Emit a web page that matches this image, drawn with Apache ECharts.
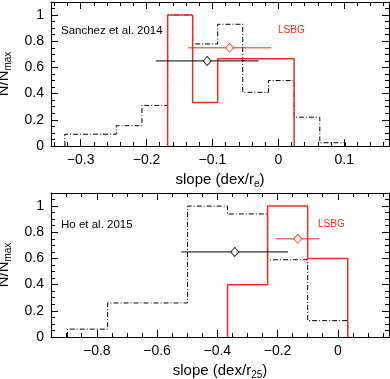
<!DOCTYPE html>
<html>
<head>
<meta charset="utf-8">
<script src="https://cdn.jsdelivr.net/npm/echarts@6/dist/echarts.min.js"></script>
<style>
  html, body { margin: 0; padding: 0; background: #fff; }
  #main { width: 390px; height: 379px; }
</style>
</head>
<body>
<div id="main"></div>
<script>
// Sanchez et al. 2014 (top panel)
var sanchezEdges = [-0.324, -0.285, -0.246, -0.207, -0.168, -0.130, -0.092, -0.054, -0.015, 0.024, 0.063, 0.102];
var sanchezVals  = [0.09, 0.09, 0.155, 0.31, 1.0, 0.78, 0.93, 0.41, 0.5, 0.22, 0.025];
var lsbgTopEdges = [-0.168, -0.130, -0.092, -0.054, -0.015, 0.024];
var lsbgTopVals  = [1.0, 0.333, 0.667, 0.667, 0.667];
var sanchezMean = [-0.108, 0.65], sanchezErr = 0.078;
var lsbgTopMean = [-0.074, 0.75], lsbgTopErr = 0.063;

// Ho et al. 2015 (bottom panel)
var hoEdges = [-0.897, -0.764, -0.631, -0.499, -0.366, -0.233, -0.100, 0.033];
var hoVals  = [0.06, 0.26, 0.26, 1.0, 0.94, 0.59, 0.125];
var lsbgBotEdges = [-0.366, -0.233, -0.100, 0.033];
var lsbgBotVals  = [0.4, 1.0, 0.6];
var hoMean = [-0.342, 0.65], hoErr = 0.177;
var lsbgBotMean = [-0.133, 0.75], lsbgBotErr = 0.072;

// axes
var topRange = [-0.345, 0.168];
var botRange = [-0.952, 0.170];
var yRange = [0, 1.1];
var topMajor = [-0.3, -0.2, -0.1, 0, 0.1];
var botMajor = [-0.8, -0.6, -0.4, -0.2, 0];
var yMajor = [0, 0.2, 0.4, 0.6, 0.8, 1];

var RED = '#e5321f';
var FONT = '"Liberation Sans", Arial, sans-serif';

function steps(lo, hi, step) {
	var out = [];
	for (var v = lo; v <= hi + 1e-9; v += step) out.push(Math.round(v * 1000) / 1000);
	return out;
}
var topMinor = steps(-0.34, 0.16, 0.02);
var botMinor = steps(-0.95, 0.15, 0.05);
var yMinor = steps(0.05, 1.05, 0.05);

function histLine(edges, vals) {
	var pts = [[edges[0], 0]];
	for (var i = 0; i < vals.length; i++) pts.push([edges[i], vals[i]]);
	pts.push([edges[edges.length - 1], 0]);
	return pts;
}

function fmt(v) {
	return v < 0 ? '\u2212' + Math.abs(v) : String(v);
}

var subRich = {
	sub: { fontSize: 10, fontFamily: FONT, color: '#000', padding: [9, 0, 0, 0], verticalAlign: 'bottom' }
};

function axisSet(dim, grid, range, major, minor, name) {
	var list = [];
	var sides = dim === 'x' ? ['bottom', 'top'] : ['left', 'right'];
	sides.forEach(function(pos, s){
		[major, minor].forEach(function(ticks, k){
			var a = {
				type: 'value', gridIndex: grid, position: pos,
				min: range[0], max: range[1],
				axisLine: { show: k === 0, onZero: false, lineStyle: { color: '#000', width: 1 } },
				axisTick: { show: true, inside: true, length: k === 0 ? 7 : 4, customValues: ticks,
					lineStyle: { color: '#000', width: 1 } },
				axisLabel: { show: s === 0 && k === 0, customValues: ticks, formatter: fmt,
					fontSize: 14, fontFamily: FONT, color: '#000', margin: 7 },
				splitLine: { show: false }
			};
			if (s === 0 && k === 0) {
				a.name = name;
				a.nameLocation = 'middle';
				a.nameTextStyle = { fontSize: 15, fontFamily: FONT, color: '#000', rich: subRich };
				if (dim === 'x') {
					a.nameGap = 24;
				} else {
					a.nameGap = 27;
					a.nameRotate = 90;
				}
			}
			list.push(a);
		});
	});
	return list;
}

var xAxes = axisSet('x', 0, topRange, topMajor, topMinor, 'slope (dex/r{sub|e})')
	.concat(axisSet('x', 1, botRange, botMajor, botMinor, 'slope (dex/r{sub|25})'));
var yAxes = axisSet('y', 0, yRange, yMajor, yMinor, 'N/N{sub|max}')
	.concat(axisSet('y', 1, yRange, yMajor, yMinor, 'N/N{sub|max}'));

function hist(g, edges, vals, color, dash, width) {
	return {
		type: 'line', xAxisIndex: g * 4, yAxisIndex: g * 4, step: 'end',
		data: histLine(edges, vals), symbol: 'none', silent: true,
		lineStyle: { color: color, width: width, type: dash }, z: color === RED ? 5 : 3
	};
}
function errBar(g, mean, err, color) {
	return {
		type: 'line', xAxisIndex: g * 4, yAxisIndex: g * 4,
		data: [[mean[0] - err, mean[1]], [mean[0] + err, mean[1]]],
		symbol: 'none', silent: true, lineStyle: { color: color, width: 1 }, z: 6
	};
}
function meanPt(g, mean, color) {
	return {
		type: 'scatter', xAxisIndex: g * 4, yAxisIndex: g * 4,
		data: [mean], symbol: 'diamond', symbolSize: [8, 9], silent: true,
		itemStyle: { color: '#fff', borderColor: color, borderWidth: 1 }, z: 7
	};
}

var dashDot = [5, 2, 1, 2];

var chart = echarts.init(document.getElementById('main'), null, { renderer: 'canvas' });
chart.setOption({
	animation: false,
	backgroundColor: '#fff',
	textStyle: { fontFamily: FONT },
	grid: [
		{ left: 51, right: 1, top: 2, height: 144, outerBoundsMode: 'none', containLabel: false },
		{ left: 51, right: 1, top: 193, height: 144, outerBoundsMode: 'none', containLabel: false }
	],
	xAxis: xAxes,
	yAxis: yAxes,
	graphic: [
		{ type: 'text', left: 61, top: 25, style: { text: 'Sanchez et al. 2014', fontSize: 11.5, fontFamily: FONT, fill: '#000' } },
		{ type: 'text', left: 278, top: 25, style: { text: 'LSBG', fontSize: 10, fontFamily: FONT, fill: RED } },
		{ type: 'text', left: 61, top: 219, style: { text: 'Ho et al. 2015', fontSize: 11.5, fontFamily: FONT, fill: '#000' } },
		{ type: 'text', left: 318, top: 219, style: { text: 'LSBG', fontSize: 10, fontFamily: FONT, fill: RED } }
	],
	series: [
		hist(0, sanchezEdges, sanchezVals, '#000', dashDot, 1),
		hist(0, lsbgTopEdges, lsbgTopVals, RED, 'solid', 1.5),
		errBar(0, sanchezMean, sanchezErr, '#000'),
		errBar(0, lsbgTopMean, lsbgTopErr, RED),
		meanPt(0, sanchezMean, '#000'),
		meanPt(0, lsbgTopMean, RED),
		hist(1, hoEdges, hoVals, '#000', dashDot, 1),
		hist(1, lsbgBotEdges, lsbgBotVals, RED, 'solid', 1.5),
		errBar(1, hoMean, hoErr, '#000'),
		errBar(1, lsbgBotMean, lsbgBotErr, RED),
		meanPt(1, hoMean, '#000'),
		meanPt(1, lsbgBotMean, RED)
	]
});
</script>
</body>
</html>
